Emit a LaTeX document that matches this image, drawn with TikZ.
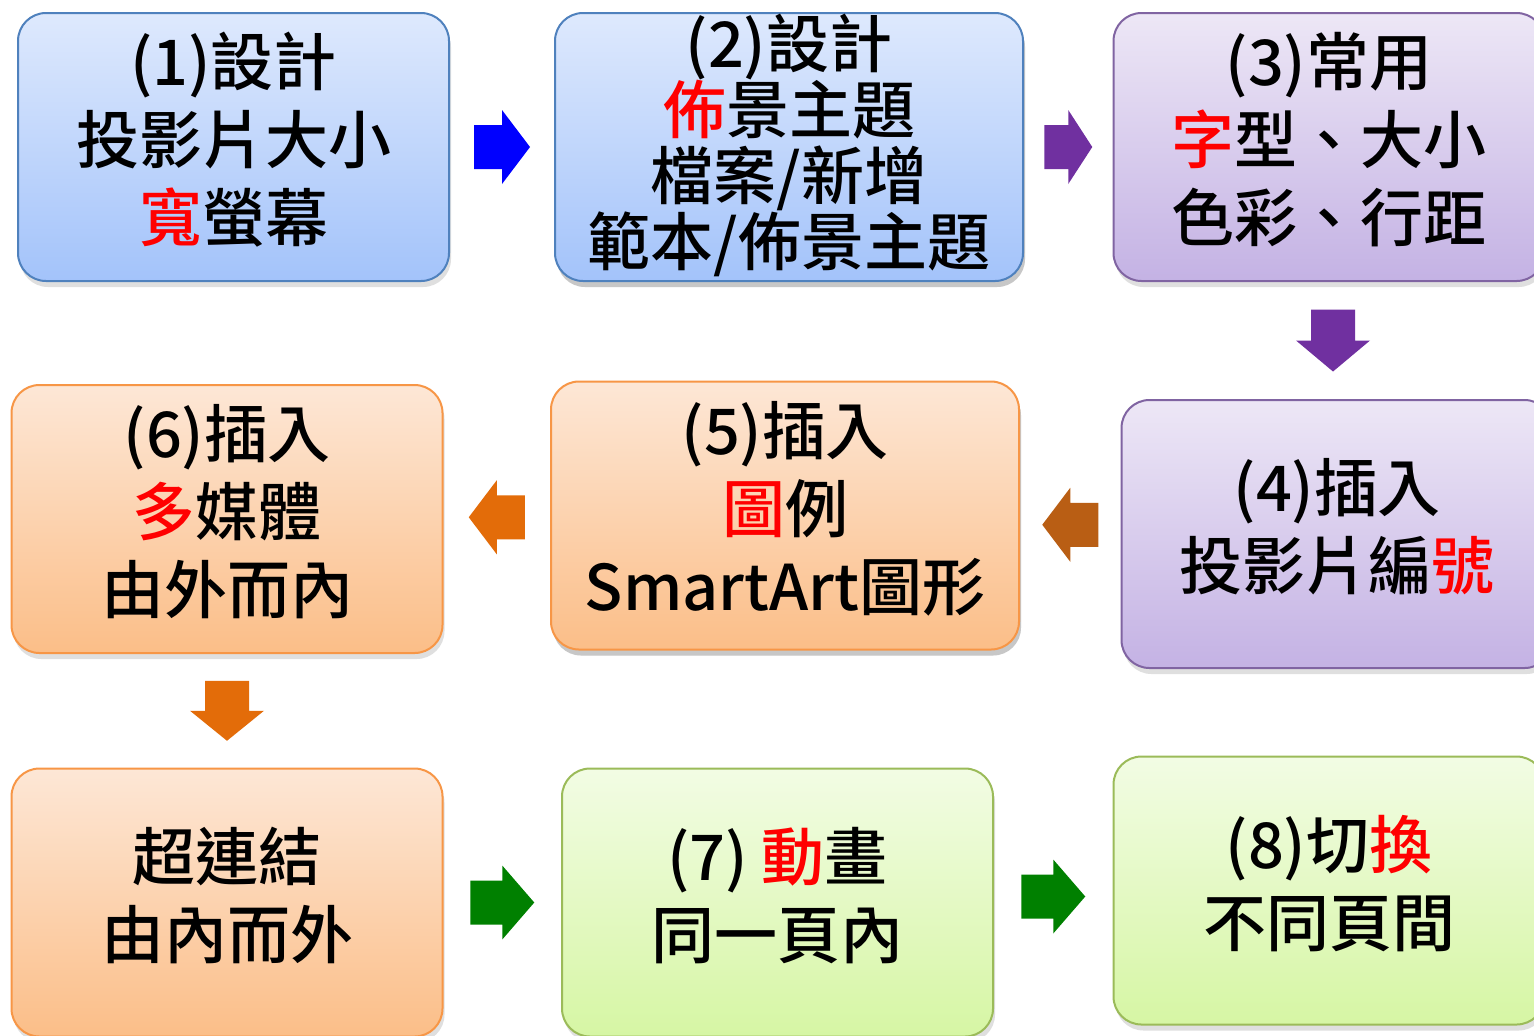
\documentclass[tikz,border=0pt]{standalone}
\usepackage{fontspec}
\setmainfont{Noto Sans CJK TC}[BoldFont={Noto Sans CJK TC Medium}]
\usetikzlibrary{calc,shadows}

\begin{document}
\begin{tikzpicture}[x=0.5pt, y=-0.5pt, line join=round,
  font=\bfseries\fontsize{31.5}{39}\selectfont,
  box/.style={rectangle, rounded corners=14pt, line width=1pt, align=center, inner sep=0pt,
    minimum width=215.5pt, minimum height=134pt, text depth=10pt,
    drop shadow={shadow xshift=1pt, shadow yshift=-3pt, opacity=0.25}},
  widebox/.style={box, minimum width=234pt},
  bluebox/.style={box, draw=blueedge, top color=bluetop, bottom color=bluebot},
  purplebox/.style={box, draw=purpleedge, top color=purpletop, bottom color=purplebot},
  orangebox/.style={box, draw=orangeedge, top color=orangetop, bottom color=orangebot},
  greenbox/.style={box, draw=greenedge, top color=greentop, bottom color=greenbot},
  tightlines/.style={font=\bfseries\fontsize{31.5}{33}\selectfont, text depth=7pt},
]

% ---------- colours ----------
\definecolor{bluetop}{RGB}{222,233,253}
\definecolor{bluebot}{RGB}{163,195,250}
\definecolor{blueedge}{RGB}{79,129,189}
\definecolor{purpletop}{RGB}{237,231,246}
\definecolor{purplebot}{RGB}{196,178,228}
\definecolor{purpleedge}{RGB}{128,100,162}
\definecolor{orangetop}{RGB}{253,231,214}
\definecolor{orangebot}{RGB}{251,190,136}
\definecolor{orangeedge}{RGB}{247,150,70}
\definecolor{greentop}{RGB}{242,252,228}
\definecolor{greenbot}{RGB}{214,246,164}
\definecolor{greenedge}{RGB}{155,187,89}
\definecolor{arrblue}{RGB}{0,0,255}
\definecolor{arrpurple}{RGB}{112,48,160}
\definecolor{arrbrown}{RGB}{185,94,20}
\definecolor{arrorange}{RGB}{227,108,9}
\definecolor{arrgreen}{RGB}{0,128,0}

\newcommand{\redtxt}[1]{\textcolor{red}{#1}}

% blockarrow: centre, angle, colour, half length
\newcommand{\blockarrow}[4]{%
  \begin{scope}[shift={#1}, rotate=#2]
    \fill[#3] (-#4,-22) -- (0,-22) -- (0,-37) -- (#4,0) -- (0,37) -- (0,22) -- (-#4,22) -- cycle;
  \end{scope}%
}

\useasboundingbox (0,0) rectangle (1534,1035);
\fill[white] (0,0) rectangle (1534,1035);
\clip (0,0) rectangle (1534,1035);

% ---------- boxes ----------
\node[bluebox] (b1) at (233.5,147) {(1)設計\\投影片大小\\\redtxt{寬}螢幕};
\node[bluebox, widebox, tightlines] (b2) at (789,147) {(2)設計\\\redtxt{佈}景主題\\檔案/新增\\範本/佈景主題};
\node[purplebox] (b3) at (1329,147) {(3)常用\\\redtxt{字}型、大小\\色彩、行距};

\node[purplebox] (b4) at (1337,534) {(4)插入\\投影片編\redtxt{號}};
\node[orangebox, widebox] (b5) at (785,515.5) {(5)插入\\\redtxt{圖}例\\SmartArt圖形};
\node[orangebox] (b6) at (227,519) {(6)插入\\\redtxt{多}媒體\\由外而內};

\node[orangebox] (b7) at (227,902.5) {超連結\\由內而外};
\node[greenbox] (b8) at (777.5,902.5) {(7) \redtxt{動}畫\\同一頁內};
\node[greenbox] (b9) at (1329,890.5) {(8)切\redtxt{換}\\不同頁間};

% ---------- arrows ----------
\coordinate (a12) at ($(b1.east)!0.5!(b2.west)$);
\coordinate (a23) at ($(b2.east)!0.5!(b3.west)$);
\coordinate (a34) at ($(b3.south)!0.5!(b4.north)$);
\coordinate (a45) at ($(b4.west)!0.5!(b5.east)$);
\coordinate (a56) at ($(b5.west)!0.5!(b6.east)$);
\coordinate (a67) at ($(b6.south)!0.5!(b7.north)$);
\coordinate (a78) at ($(b7.east)!0.5!(b8.west)$);
\coordinate (a89) at ($(b8.east)!0.5!(b9.west)$);

\blockarrow{(a12)}{0}{arrblue}{28}
\blockarrow{(a23)}{0}{arrpurple}{24}
\blockarrow{(a34)}{-90}{arrpurple}{31}
\blockarrow{(a45)}{180}{arrbrown}{28}
\blockarrow{(a56)}{180}{arrorange}{28}
\blockarrow{(a67)}{-90}{arrorange}{30}
\blockarrow{(a78)}{0}{arrgreen}{32}
\blockarrow{(a89)}{0}{arrgreen}{32}

\end{tikzpicture}
\end{document}
